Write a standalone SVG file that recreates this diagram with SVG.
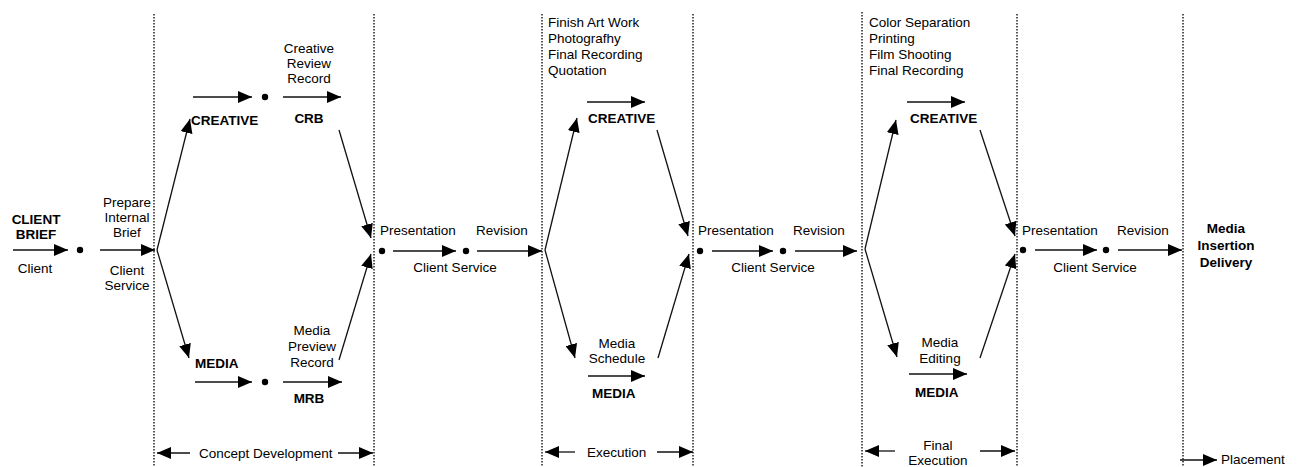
<svg xmlns="http://www.w3.org/2000/svg" width="1300" height="467" viewBox="0 0 1300 467">
<style>
text{font-family:"Liberation Sans",Arial,sans-serif;font-size:13.5px;fill:#000}
.b{font-weight:bold}
.m{text-anchor:middle}
.arr{stroke:#111;stroke-width:1.3;fill:none;marker-end:url(#ah)}
.dv{stroke:#000;stroke-width:1.3;stroke-dasharray:1.5,1.5;fill:none}
.dot{fill:#000}
</style>
<defs>
<marker id="ah" markerUnits="userSpaceOnUse" markerWidth="14" markerHeight="12" refX="14" refY="6" orient="auto">
<path d="M0,0 L14,6 L0,12 z" fill="#000"/>
</marker>
</defs>
<g id="dividers">
<line class="dv" x1="154" y1="14" x2="154" y2="467"/>
<line class="dv" x1="374" y1="14" x2="374" y2="467"/>
<line class="dv" x1="542" y1="14" x2="542" y2="467"/>
<line class="dv" x1="693" y1="14" x2="693" y2="467"/>
<line class="dv" x1="862" y1="12" x2="862" y2="467"/>
<line class="dv" x1="1017" y1="14" x2="1017" y2="467"/>
<line class="dv" x1="1183" y1="14" x2="1183" y2="467"/>
</g>
<g id="connectors">
<line class="arr" x1="13" y1="250" x2="68" y2="250"/>
<line class="arr" x1="100" y1="250" x2="155" y2="250"/>
<line class="arr" x1="157" y1="250" x2="190" y2="119"/>
<line class="arr" x1="157" y1="250" x2="189" y2="358"/>
<line class="arr" x1="193" y1="97" x2="252" y2="97"/>
<line class="arr" x1="283" y1="97" x2="341" y2="97"/>
<line class="arr" x1="195" y1="382" x2="252" y2="382"/>
<line class="arr" x1="283" y1="382" x2="342" y2="382"/>
<line class="arr" x1="339" y1="130" x2="371" y2="238"/>
<line class="arr" x1="339" y1="360" x2="371" y2="254"/>
<line class="arr" x1="393" y1="251" x2="456" y2="251"/>
<line class="arr" x1="477" y1="251" x2="542" y2="251"/>
<line class="arr" x1="545" y1="250" x2="577" y2="118"/>
<line class="arr" x1="545" y1="250" x2="575" y2="358"/>
<line class="arr" x1="587" y1="102" x2="645" y2="102"/>
<line class="arr" x1="588" y1="376" x2="645" y2="376"/>
<line class="arr" x1="657" y1="130" x2="688" y2="236"/>
<line class="arr" x1="658" y1="358" x2="689" y2="254"/>
<line class="arr" x1="712" y1="251" x2="773" y2="251"/>
<line class="arr" x1="795" y1="251" x2="857" y2="251"/>
<line class="arr" x1="865" y1="249" x2="896" y2="120"/>
<line class="arr" x1="865" y1="249" x2="897" y2="357"/>
<line class="arr" x1="907" y1="102" x2="965" y2="102"/>
<line class="arr" x1="909" y1="374" x2="967" y2="374"/>
<line class="arr" x1="980" y1="130" x2="1015" y2="236"/>
<line class="arr" x1="980" y1="358" x2="1015" y2="254"/>
<line class="arr" x1="1035" y1="250" x2="1097" y2="250"/>
<line class="arr" x1="1118" y1="250" x2="1182" y2="250"/>
<line class="arr" x1="190" y1="453" x2="157" y2="453"/>
<line class="arr" x1="338" y1="453" x2="373" y2="453"/>
<line class="arr" x1="575" y1="452" x2="545" y2="452"/>
<line class="arr" x1="657" y1="452" x2="693" y2="452"/>
<line class="arr" x1="895" y1="451" x2="865" y2="451"/>
<line class="arr" x1="980" y1="451" x2="1015" y2="451"/>
<line class="arr" x1="1180" y1="460" x2="1217" y2="460"/>
</g>
<g id="dots">
<circle class="dot" cx="80" cy="250" r="3.2"/>
<circle class="dot" cx="265" cy="97" r="3.2"/>
<circle class="dot" cx="265" cy="382" r="3.2"/>
<circle class="dot" cx="382" cy="251" r="3.2"/>
<circle class="dot" cx="466" cy="251" r="3.2"/>
<circle class="dot" cx="700" cy="251" r="3.2"/>
<circle class="dot" cx="783" cy="251" r="3.2"/>
<circle class="dot" cx="1023" cy="250" r="3.2"/>
<circle class="dot" cx="1106" cy="250" r="3.2"/>
</g>
<g id="client-brief">
<text class="b m" x="36" y="224">CLIENT</text>
<text class="b m" x="36" y="239">BRIEF</text>
<text class="m" x="35" y="273">Client</text>
</g>
<g id="prepare-brief">
<text class="m" x="127" y="207">Prepare</text>
<text class="m" x="127" y="222">Internal</text>
<text class="m" x="127" y="237">Brief</text>
<text class="m" x="127" y="275">Client</text>
<text class="m" x="127" y="290">Service</text>
</g>
<g id="creative-1">
<text class="b" x="191" y="125">CREATIVE</text>
<text class="m" x="309" y="53">Creative</text>
<text class="m" x="309" y="68">Review</text>
<text class="m" x="309" y="83">Record</text>
<text class="b m" x="309" y="123">CRB</text>
</g>
<g id="media-1">
<text class="b" x="195" y="368">MEDIA</text>
<text class="m" x="312" y="335">Media</text>
<text class="m" x="312" y="351">Preview</text>
<text class="m" x="312" y="367">Record</text>
<text class="b m" x="309" y="403">MRB</text>
</g>
<g id="concept-development">
<text x="199" y="458">Concept Development</text>
</g>
<g id="presentation-1">
<text x="380" y="235">Presentation</text>
<text x="476" y="235">Revision</text>
<text class="m" x="455" y="272">Client Service</text>
</g>
<g id="creative-2">
<text x="548" y="27">Finish Art Work</text>
<text x="548" y="43">Photografhy</text>
<text x="548" y="59">Final Recording</text>
<text x="548" y="75">Quotation</text>
<text class="b" x="588" y="123">CREATIVE</text>
</g>
<g id="media-2">
<text class="m" x="617" y="348">Media</text>
<text class="m" x="617" y="363">Schedule</text>
<text class="b" x="592" y="398">MEDIA</text>
</g>
<g id="execution">
<text x="587" y="457">Execution</text>
</g>
<g id="presentation-2">
<text x="698" y="235">Presentation</text>
<text x="793" y="235">Revision</text>
<text class="m" x="773" y="272">Client Service</text>
</g>
<g id="creative-3">
<text x="869" y="27">Color Separation</text>
<text x="869" y="43">Printing</text>
<text x="869" y="59">Film Shooting</text>
<text x="869" y="75">Final Recording</text>
<text class="b" x="910" y="123">CREATIVE</text>
</g>
<g id="media-3">
<text class="m" x="940" y="347">Media</text>
<text class="m" x="940" y="363">Editing</text>
<text class="b" x="915" y="397">MEDIA</text>
</g>
<g id="final-execution">
<text class="m" x="938" y="450">Final</text>
<text class="m" x="938" y="465">Execution</text>
</g>
<g id="presentation-3">
<text x="1022" y="235">Presentation</text>
<text x="1117" y="235">Revision</text>
<text class="m" x="1095" y="272">Client Service</text>
</g>
<g id="media-insertion">
<text class="b m" x="1226" y="233">Media</text>
<text class="b m" x="1226" y="250">Insertion</text>
<text class="b m" x="1226" y="267">Delivery</text>
</g>
<g id="placement">
<text x="1221" y="464">Placement</text>
</g>
</svg>
